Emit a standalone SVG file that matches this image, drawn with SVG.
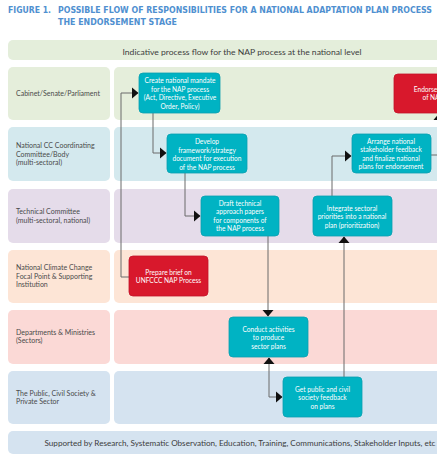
<svg xmlns="http://www.w3.org/2000/svg" width="437" height="461" viewBox="0 0 437 461">
<defs>
<style>
.title{font-family:"DejaVu Sans Condensed","DejaVu Sans","Liberation Sans",sans-serif;font-stretch:condensed;font-weight:bold;font-size:8.6px;fill:#4f90d0}
.lbl{font-family:Lato,"Open Sans","Liberation Sans",sans-serif;font-size:7px;fill:#4a4a4a}
.bar{font-family:Lato,"Open Sans","Liberation Sans",sans-serif;font-size:8px;fill:#3c3c3c;text-anchor:middle}
.nt{font-family:Lato,"Open Sans","Liberation Sans",sans-serif;font-size:6.6px;fill:#ffffff;text-anchor:middle}
.teal{fill:#00b3c3;stroke:#0a9fb0;stroke-width:0.8}
.red{fill:#d8182c;stroke:#c3132a;stroke-width:0.8}
.conn{fill:none;stroke:#6a6a6a;stroke-width:1}
</style>
<marker id="ah" markerUnits="userSpaceOnUse" markerWidth="7" markerHeight="12" refX="6" refY="5.5" orient="auto-start-reverse" viewBox="0 0 7 11">
<path d="M0,0 L6.5,5.5 L0,11 z" fill="#111"/>
</marker>
</defs>
<rect width="437" height="461" fill="#ffffff"/>

<g id="title">
<text class="title" x="8" y="13">FIGURE 1.</text>
<text class="title" x="58" y="13" textLength="374" lengthAdjust="spacingAndGlyphs">POSSIBLE FLOW OF RESPONSIBILITIES FOR A NATIONAL ADAPTATION PLAN PROCESS</text>
<text class="title" x="58" y="25" textLength="119" lengthAdjust="spacingAndGlyphs">THE ENDORSEMENT STAGE</text>
</g>

<g id="header">
<rect x="8" y="40" width="440" height="20" rx="5" fill="#e4eedb"/>
<text class="bar" x="242" y="55" textLength="239" lengthAdjust="spacingAndGlyphs">Indicative process flow for the NAP process at the national level</text>
</g>

<g id="lanes">
<rect x="8" y="67" width="102" height="53" rx="5" fill="#e5eedb"/>
<rect x="114" y="67" width="334" height="53" rx="5" fill="#e5eedb"/>
<rect x="8" y="127" width="102" height="54" rx="5" fill="#d4e9ee"/>
<rect x="114" y="127" width="334" height="54" rx="5" fill="#d4e9ee"/>
<rect x="8" y="189" width="102" height="54" rx="5" fill="#e5dcea"/>
<rect x="114" y="189" width="334" height="54" rx="5" fill="#e5dcea"/>
<rect x="8" y="250" width="102" height="53" rx="5" fill="#fde5d6"/>
<rect x="114" y="250" width="334" height="53" rx="5" fill="#fde5d6"/>
<rect x="8" y="310" width="102" height="54" rx="5" fill="#fbd9d6"/>
<rect x="114" y="310" width="334" height="54" rx="5" fill="#fbd9d6"/>
<rect x="8" y="371" width="102" height="53" rx="5" fill="#d5e3f0"/>
<rect x="114" y="371" width="334" height="53" rx="5" fill="#d5e3f0"/>
<text class="lbl" x="16" y="96">Cabinet/Senate/Parliament</text>
<text class="lbl" x="16" y="148">National CC Coordinating</text>
<text class="lbl" x="16" y="156.5">Committee/Body</text>
<text class="lbl" x="16" y="165">(multi-sectoral)</text>
<text class="lbl" x="16" y="214">Technical Committee</text>
<text class="lbl" x="16" y="222.5">(multi-sectoral, national)</text>
<text class="lbl" x="16" y="270">National Climate Change</text>
<text class="lbl" x="16" y="278.5">Focal Point &amp; Supporting</text>
<text class="lbl" x="16" y="287">Institution</text>
<text class="lbl" x="16" y="334.5">Departments &amp; Ministries</text>
<text class="lbl" x="16" y="343">(Sectors)</text>
<text class="lbl" x="16" y="395.5">The Public, Civil Society &amp;</text>
<text class="lbl" x="16" y="404">Private Sector</text>
</g>

<g id="footer">
<rect x="8" y="431" width="440" height="23" rx="5" fill="#d5e3f0"/>
<text class="bar" x="240" y="446" textLength="391" lengthAdjust="spacingAndGlyphs">Supported by Research, Systematic Observation, Education, Training, Communications, Stakeholder Inputs, etc</text>
</g>

<g id="connectors">
<path class="conn" d="M129,277 H121 V93 H138" marker-end="url(#ah)"/>
<path class="conn" d="M153,113 V153 H166" marker-end="url(#ah)"/>
<path class="conn" d="M185,173 V216 H200" marker-end="url(#ah)"/>
<path class="conn" d="M268,236 V316" marker-end="url(#ah)"/>
<path class="conn" d="M269,358 V397 H282" marker-start="url(#ah)" marker-end="url(#ah)"/>
<path class="conn" d="M344,377 V237" marker-end="url(#ah)"/>
<path class="conn" d="M332,196 V156 H351" marker-end="url(#ah)"/>
<path class="conn" d="M431,155 H439 V114" marker-end="url(#ah)"/>
</g>

<g id="n-mandate">
<rect class="teal" x="139" y="73" width="81" height="40" rx="4"/>
<text class="nt" x="180" y="83">Create national mandate</text>
<text class="nt" x="180" y="91.5">for the NAP process</text>
<text class="nt" x="180" y="100">(Act, Directive, Executive</text>
<text class="nt" x="180" y="108.5">Order, Policy)</text>
</g>

<g id="n-endorse">
<rect class="red" x="394" y="74" width="80" height="39" rx="4"/>
<text class="nt" x="433" y="91.5">Endorsement</text>
<text class="nt" x="433" y="100">of NAP</text>
</g>

<g id="n-develop">
<rect class="teal" x="167" y="134" width="80" height="39" rx="4"/>
<text class="nt" x="207" y="144">Develop</text>
<text class="nt" x="207" y="152.5">framework/strategy</text>
<text class="nt" x="207" y="161">document for execution</text>
<text class="nt" x="207" y="169.5">of the NAP process</text>
</g>

<g id="n-arrange">
<rect class="teal" x="352" y="134" width="79" height="39" rx="4"/>
<text class="nt" x="391" y="143.5">Arrange national</text>
<text class="nt" x="391" y="152">stakeholder feedback</text>
<text class="nt" x="391" y="160.5">and finalize national</text>
<text class="nt" x="391" y="169">plans for endorsement</text>
</g>

<g id="n-draft">
<rect class="teal" x="201" y="196" width="78" height="40" rx="4"/>
<text class="nt" x="240" y="205.5">Draft technical</text>
<text class="nt" x="240" y="214">approach papers</text>
<text class="nt" x="240" y="222.5">for components of</text>
<text class="nt" x="240" y="231">the NAP process</text>
</g>

<g id="n-integrate">
<rect class="teal" x="313" y="196" width="79" height="40" rx="4"/>
<text class="nt" x="352" y="210.5">Integrate sectoral</text>
<text class="nt" x="352" y="219">priorities into a national</text>
<text class="nt" x="352" y="227.5">plan (prioritization)</text>
</g>

<g id="n-brief">
<rect class="red" x="129" y="256" width="79" height="40" rx="4"/>
<text class="nt" x="168.5" y="274.5">Prepare brief on</text>
<text class="nt" x="168.5" y="283">UNFCCC NAP Process</text>
</g>

<g id="n-conduct">
<rect class="teal" x="229" y="317" width="79" height="40" rx="4"/>
<text class="nt" x="268.5" y="331.5">Conduct activities</text>
<text class="nt" x="268.5" y="340">to produce</text>
<text class="nt" x="268.5" y="348.5">sector plans</text>
</g>

<g id="n-public">
<rect class="teal" x="283" y="377" width="79" height="40" rx="4"/>
<text class="nt" x="322.5" y="391.5">Get public and civil</text>
<text class="nt" x="322.5" y="400">society feedback</text>
<text class="nt" x="322.5" y="408.5">on plans</text>
</g>
</svg>
